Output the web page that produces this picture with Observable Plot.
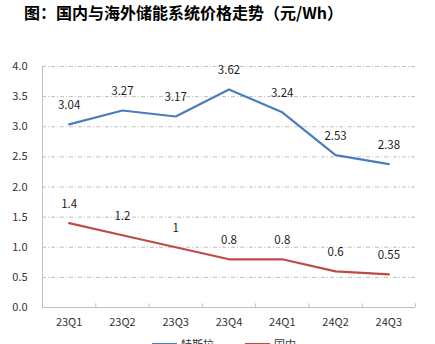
<!DOCTYPE html>
<html>
<head>
<meta charset="utf-8">
<script src="https://cdn.jsdelivr.net/npm/d3@7"></script>
<script src="https://cdn.jsdelivr.net/npm/@observablehq/plot@0.6"></script>
<style>
  html, body { margin: 0; padding: 0; background: #fff; overflow: hidden; }
  body { width: 435px; height: 344px; font-family: "Noto Sans CJK SC", sans-serif; }
  #title { height: 28px; line-height: 24px; padding-left: 24px; font-size: 16px; font-weight: bold; color: #000; white-space: nowrap; }
  #legend { position: relative; height: 20px; font-size: 11px; color: #333; }
  .item { position: absolute; top: 2px; display: flex; align-items: center; }
  .sw { display: inline-block; width: 25px; height: 3px; margin-right: 4px; }
</style>
</head>
<body>
<div id="title">图：国内与海外储能系统价格走势（元/Wh）</div>
<div id="chart"></div>
<div id="legend"></div>
<script>
const quarters = ["23Q1", "23Q2", "23Q3", "23Q4", "24Q1", "24Q2", "24Q3"];
const tesla = [3.04, 3.27, 3.17, 3.62, 3.24, 2.53, 2.38];
const domestic = [1.4, 1.2, 1, 0.8, 0.8, 0.6, 0.55];
const seriesNames = ["特斯拉", "国内"];
const colors = ["#4a7ebb", "#be4b48"];
const yTicks = [0, 0.5, 1, 1.5, 2, 2.5, 3, 3.5, 4];

const rows = [];
quarters.forEach((q, i) => {
  rows.push({i, q, v: tesla[i], s: seriesNames[0]});
  rows.push({i, q, v: domestic[i], s: seriesNames[1]});
});
const boundaries = d3.range(quarters.length + 1).map(i => i - 0.5);
const gridVals = yTicks.filter(v => v > 0);

const chart = Plot.plot({
  width: 435,
  height: 306,
  marginLeft: 42,
  marginRight: 20,
  marginTop: 38,
  marginBottom: 27,
  style: {fontFamily: "'Noto Sans CJK SC', sans-serif", fontSize: "11px", color: "#333"},
  x: {type: "linear", domain: [-0.5, quarters.length - 0.5]},
  y: {domain: [0, 4]},
  color: {domain: seriesNames, range: colors},
  marks: [
    Plot.ruleY(gridVals, {stroke: "#bfbfbf", strokeWidth: 1, strokeDasharray: "4,2,1,2"}),
    Plot.ruleX([boundaries[0]], {y1: 0, y2: 4, stroke: "#bfbfbf"}),
    Plot.ruleY([0], {stroke: "#bfbfbf"}),
    Plot.ruleX(boundaries, {y1: 0, y2: 0.06, stroke: "#bfbfbf"}),
    Plot.axisY({ticks: yTicks, tickFormat: d3.format(".1f"), tickSize: 0, tickPadding: 15, label: null, fill: "#333"}),
    Plot.axisX({ticks: d3.range(quarters.length), tickFormat: i => quarters[i], tickSize: 0, tickPadding: 11, label: null, fill: "#333"}),
    Plot.line(rows, {x: "i", y: "v", z: "s", stroke: "s", strokeWidth: 2.2}),
    Plot.text(rows, {x: "i", y: "v", text: d => String(d.v), dy: -19, fill: "#222", fontSize: 11.5})
  ]
});
document.getElementById("chart").appendChild(chart);

const legend = document.getElementById("legend");
const lefts = [152, 245];
seriesNames.forEach((n, k) => {
  const it = document.createElement("div");
  it.className = "item";
  it.style.left = lefts[k] + "px";
  it.innerHTML = `<span class="sw" style="background:${colors[k]}"></span><span>${n}</span>`;
  legend.appendChild(it);
});
</script>
</body>
</html>
